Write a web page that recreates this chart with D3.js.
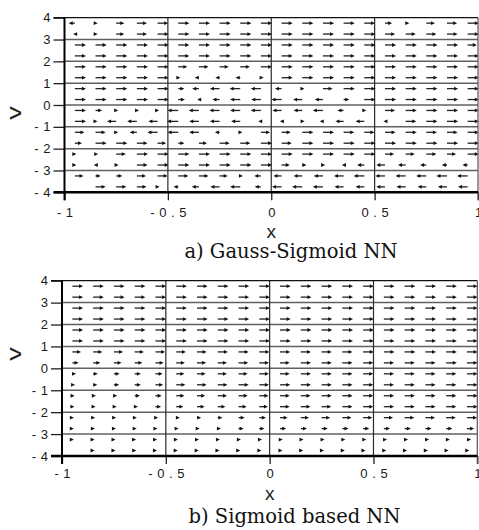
<!DOCTYPE html>
<html>
<head>
<meta charset="utf-8">
<script src="https://cdn.jsdelivr.net/npm/d3@7"></script>
<style>
  body { margin: 0; background: #fff; }
  svg { display: block; }
</style>
</head>
<body>
<div id="chart"></div>
<script>
// grid of arrow tails
const xGrid = [-0.95, -0.85, -0.75, -0.65, -0.55, -0.45, -0.35, -0.25, -0.15, -0.05,
               0.05, 0.15, 0.25, 0.35, 0.45, 0.55, 0.65, 0.75, 0.85, 0.95];
const vGrid = [3.75, 3.25, 2.75, 2.25, 1.75, 1.25, 0.75, 0.25,
               -0.25, -0.75, -1.25, -1.75, -2.25, -2.75, -3.25, -3.75];

const xTicks = [-1, -0.5, 0, 0.5, 1];
const yTicks = [4, 3, 2, 1, 0, -1, -2, -3, -4];

// horizontal arrow components (relative length), one row per v, top to bottom
const uGauss = [
  [-0.5, 0.1, 0.7, 0.9, 0.95, 1, 1, 1, 1, 1, 1, 1, 1, 1, 0.95, 0.6, 0.25, 0.75, 0.9, 1],
  [-0.05, 0.1, 0.7, 0.9, 1, 1, 1, 1, 1, 1, 1, 1, 1, 1, 1, 0.9, 0.9, 0.9, 0.95, 1],
  [1, 1, 1, 1, 1, 1, 1, 1, 1, 1, 1, 1, 1, 1, 1, 1, 1, 1, 1, 0.8],
  [1, 1, 1, 1, 1, 1, 1, 1, 1, 1, 1, 1, 1, 1, 1, 1, 1, 1, 1, 1],
  [1, 1, 1, 1, 1, 0.8, 0.85, 0.8, 0.85, 1, 1, 1, 1, 1, 1, 1, 1, 1, 1, 1],
  [1, 1, 1, 1, 1, 0.1, -0.3, -0.3, -0.35, 0.15, 1, 1, 1, 1, 1, 1, 1, 1, 1, 1],
  [1, 1, 1, 1, 1, 0.5, -0.55, -0.85, -0.95, -0.9, -0.55, 0.1, 0.85, 1, 1, 1, 1, 1, 1, 1],
  [1, 1, 1, 1, 1, 0.55, -0.05, -0.6, -0.9, -0.85, -0.9, -0.8, -0.7, 0.45, 1, 1, 1, 1, 1, 1],
  [1, 0.55, 0.08, 0.1, 0.03, -0.95, -0.9, -0.9, -0.9, -0.9, -0.8, -0.75, -0.9, -0.5, 0.08, 0.9, 1, 1, 1, 1],
  [1, 0.08, -0.8, -0.85, -0.8, -1, -0.85, -0.85, -0.8, -0.15, -0.05, 0.12, -0.2, -0.7, -0.75, -0.03, 0.95, 1, 1, 1],
  [0.85, 0.9, 0.08, -0.6, -0.9, -0.95, -0.85, -0.35, 0.1, 0.8, 0.8, 1, 1, 0.95, 0.9, 0.95, 1, 0.95, 0.95, 1],
  [0.6, 1, 1, 0.95, 0.75, 0.5, 0.7, 0.9, 0.9, 1, 0.9, 1, 1, 1, 1, 1, 1, 1, 1, 1],
  [0.03, 0.15, 0.85, 1, 1, 1, 1, 1, 1, 1, 1, 1, 1, 1, 1, 0.8, 0.8, 0.9, 0.8, 1],
  [0.03, -0.05, 0.12, 0.95, 1, 1, 1, 1, 1, 1, 0.7, 0.3, 0.1, -0.05, -0.6, -0.75, -0.65, -0.5, -0.4, -0.4],
  [0.75, 0.4, 0.5, 0.8, 0.9, 0.9, 0.85, 0.7, 0.15, -0.55, -0.7, -0.75, -0.8, -0.85, -0.95, -0.85, -0.9, -0.9, -0.95, -0.95],
  [null, 0.9, 0.9, 0.85, 0.08, -0.35, -0.6, -0.8, -0.9, -0.5, -0.85, -0.9, -0.9, -0.8, -0.75, -0.75, -0.8, -0.75, -0.8, -0.85]
];

const uSigmoid = [
  [0.95, 0.95, 0.95, 0.95, 0.95, 0.95, 0.95, 0.95, 0.95, 0.95, 0.95, 0.95, 0.95, 0.95, 0.95, 0.95, 0.95, 0.95, 0.95, 0.95],
  [0.95, 0.95, 0.95, 0.95, 0.95, 0.95, 0.95, 0.95, 0.95, 0.95, 0.95, 0.95, 0.95, 0.95, 0.95, 0.95, 0.95, 0.95, 0.95, 0.95],
  [0.95, 0.95, 0.95, 0.95, 0.95, 0.95, 0.95, 0.95, 0.95, 0.95, 0.95, 0.95, 0.95, 0.95, 0.95, 0.95, 0.95, 0.95, 0.95, 0.95],
  [0.95, 0.95, 0.95, 0.95, 0.95, 0.95, 0.95, 0.95, 0.95, 0.95, 0.95, 0.95, 0.95, 0.95, 0.95, 0.95, 0.95, 0.95, 0.95, 0.95],
  [0.95, 0.95, 0.95, 0.95, 0.95, 0.95, 0.95, 0.95, 0.95, 0.95, 0.95, 0.95, 0.95, 0.95, 0.95, 0.95, 0.95, 0.95, 0.95, 0.95],
  [0.95, 0.95, 0.95, 0.95, 0.95, 0.95, 0.95, 0.95, 0.95, 0.95, 0.95, 0.95, 0.95, 0.95, 0.95, 0.95, 0.95, 0.95, 0.95, 0.95],
  [0.75, 0.8, 0.8, 0.8, 0.85, 0.85, 0.85, 0.9, 0.9, 0.9, 0.9, 0.9, 0.9, 0.9, 0.95, 0.95, 0.95, 0.95, 0.95, 0.95],
  [0.5, 0.6, 0.65, 0.65, 0.7, 0.75, 0.8, 0.8, 0.85, 0.85, 0.85, 0.9, 0.9, 0.9, 0.9, 0.9, 0.9, 0.9, 0.95, 0.95],
  [0.25, 0.35, 0.45, 0.5, 0.6, 0.7, 0.75, 0.8, 0.8, 0.85, 0.85, 0.9, 0.9, 0.9, 0.9, 0.9, 0.9, 0.9, 0.9, 0.95],
  [0.15, 0.3, 0.4, 0.5, 0.65, 0.8, 0.85, 0.85, 0.9, 0.85, 0.9, 0.9, 0.9, 0.9, 0.9, 0.9, 0.9, 0.9, 0.9, 0.95],
  [0.1, 0.15, 0.2, 0.4, 0.5, 0.7, 0.7, 0.8, 0.8, 0.8, 0.85, 0.85, 0.9, 0.9, 0.9, 0.9, 0.9, 0.9, 0.9, 0.95],
  [0.08, 0.12, 0.15, 0.2, 0.45, 0.6, 0.65, 0.65, 0.7, 0.75, 0.85, 0.85, 0.85, 0.9, 0.9, 0.9, 0.9, 0.9, 0.9, 0.95],
  [0.03, 0.08, 0.1, 0.1, 0.15, 0.25, 0.3, 0.35, 0.5, 0.55, 0.65, 0.7, 0.75, 0.8, 0.8, 0.8, 0.85, 0.85, 0.85, 0.9],
  [0.02, 0.05, 0.08, 0.08, 0.08, 0.12, 0.15, 0.2, 0.4, 0.4, 0.5, 0.5, 0.5, 0.5, 0.5, 0.5, 0.5, 0.5, 0.5, 0.6],
  [0.02, 0.02, 0.04, 0.02, 0.04, 0.05, 0.08, 0.1, 0.12, 0.15, 0.15, 0.15, 0.18, 0.18, 0.2, 0.2, 0.22, 0.25, 0.25, 0.3],
  [null, 0.02, 0.03, 0.03, 0.03, 0.03, 0.05, 0.05, 0.05, 0.1, 0.12, 0.12, 0.12, 0.12, 0.12, 0.12, 0.12, 0.12, 0.12, 0.12]
];

const captions = ["a) Gauss-Sigmoid NN", "b) Sigmoid based NN"];

// arrow length for u = 1, in x units
const arrowScale = 0.048;

const svg = d3.select("#chart").append("svg")
    .attr("width", 479)
    .attr("height", 530);

function drawPanel(u, caption, box) {
    const x = d3.scaleLinear().domain([-1, 1]).range([box.left, box.right]);
    const y = d3.scaleLinear().domain([-4, 4]).range([box.bottom, box.top]);
    const g = svg.append("g");

    // horizontal grid lines
    g.selectAll(".hgrid")
        .data(yTicks.filter(d => d !== 4 && d !== -4))
        .enter().append("line")
        .attr("x1", box.left).attr("x2", box.right)
        .attr("y1", d => y(d)).attr("y2", d => y(d))
        .attr("stroke", "#606060")
        .attr("stroke-width", 1.5);

    // vertical grid lines
    g.selectAll(".vgrid")
        .data(xTicks.filter(d => d !== -1 && d !== 1))
        .enter().append("line")
        .attr("x1", d => x(d)).attr("x2", d => x(d))
        .attr("y1", box.top).attr("y2", box.bottom)
        .attr("stroke", "#2a2a2a")
        .attr("stroke-width", 1.2);

    // arrows
    const cells = [];
    u.forEach((row, i) => row.forEach((val, j) => {
        if (val !== null) cells.push({ x: xGrid[j], v: vGrid[i], u: val });
    }));

    const arrows = g.selectAll(".arrow")
        .data(cells)
        .enter().append("g");

    arrows.append("line")
        .attr("x1", d => x(d.x))
        .attr("x2", d => x(d.x + d.u * arrowScale) - Math.sign(d.u) * 2)
        .attr("y1", d => y(d.v))
        .attr("y2", d => y(d.v))
        .attr("stroke", "#222")
        .attr("stroke-width", 1.3);

    arrows.append("path")
        .attr("d", d => {
            const hx = x(d.x + d.u * arrowScale);
            const hy = y(d.v);
            const s = d.u >= 0 ? 1 : -1;
            return `M${hx + s * 1.2},${hy} L${hx - s * 2.8},${hy - 1.9} L${hx - s * 2.8},${hy + 1.9} Z`;
        })
        .attr("fill", "#111");

    // axes
    const yAxis = d3.axisLeft(y)
        .tickValues(yTicks)
        .tickSize(11)
        .tickPadding(3)
        .tickFormat(d => String(d));

    const xAxis = d3.axisBottom(x)
        .tickValues(xTicks)
        .tickSize(8)
        .tickPadding(box.xPad)
        .tickFormat(d => String(d));

    const ya = g.append("g")
        .attr("transform", `translate(${box.left},0)`)
        .call(yAxis);
    const xa = g.append("g")
        .attr("transform", `translate(0,${box.bottom})`)
        .call(xAxis);

    [ya, xa].forEach(a => {
        a.select(".domain").remove();
        a.selectAll(".tick line").attr("stroke", "#222").attr("stroke-width", 1.3);
        a.selectAll(".tick text")
            .attr("fill", "#1a1a1a")
            .style("font-family", "'Liberation Sans', Arial, sans-serif")
            .style("font-size", "13px")
            .style("letter-spacing", "4.6px");
    });
    ya.selectAll(".tick text").attr("dx", "4.6px");
    xa.selectAll(".tick text").attr("dx", "2.3px");

    // frame
    g.append("line")
        .attr("x1", box.left - 11).attr("x2", box.right)
        .attr("y1", box.top).attr("y2", box.top)
        .attr("stroke", "#111").attr("stroke-width", 1.3);
    g.append("line")
        .attr("x1", box.right).attr("x2", box.right)
        .attr("y1", box.top).attr("y2", box.bottom + 8)
        .attr("stroke", "#555").attr("stroke-width", 1.2);
    g.append("line")
        .attr("x1", box.left).attr("x2", box.left)
        .attr("y1", box.top).attr("y2", box.bottom + 8)
        .attr("stroke", "#000").attr("stroke-width", 2);
    g.append("line")
        .attr("x1", box.left - 11).attr("x2", box.right)
        .attr("y1", box.bottom).attr("y2", box.bottom)
        .attr("stroke", "#000").attr("stroke-width", 2.4);

    // axis labels
    g.append("text")
        .attr("transform", `translate(${box.ylabX},${box.ylabY}) rotate(-90) scale(1.35,1)`)
        .attr("text-anchor", "middle")
        .style("font-family", "'Liberation Sans', Arial, sans-serif")
        .style("font-size", "20px")
        .attr("fill", "#222")
        .text("v");

    g.append("text")
        .attr("x", x(0))
        .attr("y", box.xlabY)
        .attr("text-anchor", "middle")
        .style("font-family", "'Liberation Sans', Arial, sans-serif")
        .style("font-size", "19px")
        .attr("fill", "#222")
        .text("x");

    g.append("text")
        .attr("x", box.capX)
        .attr("y", box.capY)
        .attr("text-anchor", "middle")
        .style("font-family", "'DejaVu Serif', serif")
        .style("font-size", "19.5px")
        .attr("fill", "#111")
        .text(caption);
}

drawPanel(uGauss, captions[0], {
    left: 64.5, right: 478, top: 17.7, bottom: 192.3,
    xPad: 7, ylabX: 21, ylabY: 113, xlabY: 238, capX: 291, capY: 258
});
drawPanel(uSigmoid, captions[1], {
    left: 62, right: 477.3, top: 280.7, bottom: 456,
    xPad: 5, ylabX: 21, ylabY: 354, xlabY: 500, capX: 294.5, capY: 523
});
</script>
</body>
</html>
